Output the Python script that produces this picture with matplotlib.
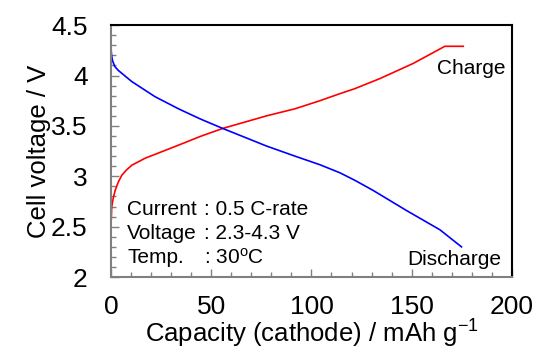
import numpy as np
import matplotlib.pyplot as plt
from matplotlib.ticker import MultipleLocator

plt.rcParams['font.family'] = ['Liberation Sans', 'DejaVu Sans']
plt.rcParams['mathtext.fontset'] = 'custom'
plt.rcParams['mathtext.rm'] = 'Liberation Sans'
plt.rcParams['mathtext.default'] = 'regular'

# charge curve (capacity mAh/g, voltage V)
charge_cap = [0, 0.3, 1, 2, 3.5, 5.3, 7.5, 10.3, 17, 28.6, 36.9, 44.4, 55.7, 77.6,
              91.8, 104.2, 114.2, 121.7, 134.2, 150.8, 166.6, 175.8]
charge_v = [2.55, 2.70, 2.78, 2.86, 2.94, 3.01, 3.06, 3.11, 3.18, 3.27, 3.335, 3.395, 3.475, 3.60,
            3.67, 3.75, 3.82, 3.87, 3.97, 4.12, 4.29, 4.29]

# discharge curve
dis_cap = [0, 0.2, 0.65, 1.8, 3.6, 10.3, 21.9, 33.6, 44.4, 55.7, 77.6, 91.8, 104.2,
           114.2, 121.7, 130.8, 147.5, 164.1, 174.9]
dis_v = [4.26, 4.20, 4.15, 4.09, 4.05, 3.94, 3.79, 3.67, 3.57, 3.475, 3.30, 3.20, 3.115,
         3.035, 2.96, 2.86, 2.66, 2.47, 2.30]

cond_labels = ['Current', 'Voltage', 'Temp.']
cond_values = [': 0.5 C-rate', ': 2.3-4.3 V', ': 30$^{o}$C']

fig = plt.figure(figsize=(5.37, 3.49), dpi=100)
ax = fig.add_axes([0.207, 0.206, 0.746, 0.722])

ax.plot(charge_cap, charge_v, color='#ff0000', lw=1.2)
ax.plot(dis_cap, dis_v, color='#0000ff', lw=1.2)

ax.set_xlim(0, 200)
ax.set_ylim(2, 4.5)
ax.xaxis.set_major_locator(MultipleLocator(50))
ax.xaxis.set_minor_locator(MultipleLocator(10))
ax.yaxis.set_minor_locator(MultipleLocator(0.1))
ax.set_yticks([2, 2.5, 3, 3.5, 4, 4.5])
ax.set_yticklabels(['2', '2.5', '3', '3.5', '4', '4.5'])

ax.tick_params(which='both', direction='in', color='#808080', width=1.0,
               labelsize=19, top=False, right=False)
ax.tick_params(which='major', length=6)
ax.tick_params(which='minor', length=3.6)
ax.tick_params(axis='x', which='major', pad=13)
ax.tick_params(axis='y', which='major', pad=17)

for s in ['left', 'bottom']:
    ax.spines[s].set_color('#808080')
    ax.spines[s].set_linewidth(1.5)
for s in ['top', 'right']:
    ax.spines[s].set_color('black')
    ax.spines[s].set_linewidth(1.5)

ax.set_xlabel('Capacity (cathode) / mAh g$^{-1}$', fontsize=18.5, labelpad=-1)
ax.set_ylabel('Cell voltage / V', fontsize=18.5, labelpad=0)

ax.text(179.6, 4.02, 'Charge', fontsize=15, ha='center', va='baseline')
ax.text(171.5, 2.12, 'Discharge', fontsize=15, ha='center', va='baseline')

for i, (lab, val) in enumerate(zip(cond_labels, cond_values)):
    y = 2.615 - i * 0.239
    ax.text(8.1, y, lab, fontsize=15, ha='left', va='baseline')
    ax.text(46.5, y, val, fontsize=15, ha='left', va='baseline')

fig.savefig('out.png', dpi=100)
